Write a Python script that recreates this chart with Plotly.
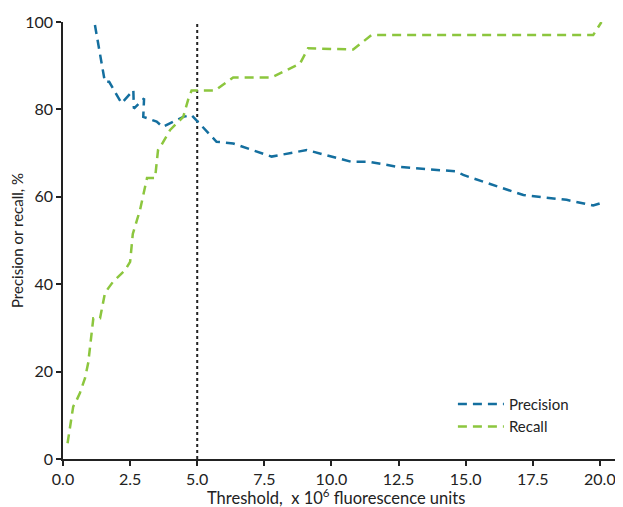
import plotly.graph_objects as go

prec_x = [1.19, 1.40, 1.56, 1.72, 2.18, 2.62, 2.64, 3.02, 2.99, 3.49, 3.71, 4.48, 4.79, 5.72, 6.34, 7.77, 9.08, 10.75, 11.43, 12.42, 14.66, 14.91, 17.15, 18.76, 19.75, 20.0]
prec_y = [99.3, 91.5, 86.3, 86.3, 81.4, 84.4, 80.2, 82.5, 78.3, 77.2, 76.0, 78.3, 78.7, 72.6, 72.2, 69.2, 70.7, 68.0, 68.0, 66.9, 65.8, 65.0, 60.4, 59.3, 58.0, 58.5]

rec_x = [0.17, 0.38, 0.51, 0.63, 0.82, 0.94, 1.13, 1.38, 1.44, 1.56, 1.69, 1.87, 2.31, 2.50, 2.60, 2.87, 3.13, 3.43, 3.54, 3.67, 3.99, 4.48, 4.66, 4.79, 5.66, 6.34, 7.77, 8.83, 9.13, 10.81, 11.49, 19.75, 20.06]
rec_y = [3.6, 12.0, 13.5, 15.1, 18.5, 22.0, 32.2, 32.2, 34.1, 37.9, 39.1, 40.6, 43.2, 45.1, 51.5, 57.0, 64.3, 64.3, 70.7, 71.9, 75.3, 78.3, 82.2, 84.3, 84.3, 87.3, 87.3, 90.5, 94.0, 93.7, 97.0, 97.0, 100.0]

thresh_x = [5.0, 5.0]
thresh_y = [0, 100]

x_ticks = [0, 2.5, 5, 7.5, 10, 12.5, 15, 17.5, 20]
x_labels = ["0.0", "2.5", "5.0", "7.5", "10.0", "12.5", "15.0", "17.5", "20.0"]
y_ticks = [0, 20, 40, 60, 80, 100]
x_title = "Threshold,\u00a0 x 10<sup>6</sup> fluorescence units"
y_title = "Precision or recall, %"

BLUE = "#146f9f"
GREEN = "#8cc63e"
FONT = "Lato"

fig = go.Figure()
fig.add_trace(go.Scatter(x=thresh_x, y=thresh_y, mode="lines",
                         line=dict(color="#222222", width=2, dash="dot"),
                         showlegend=False, hoverinfo="skip"))
fig.add_trace(go.Scatter(x=prec_x, y=prec_y, mode="lines", name="Precision",
                         line=dict(color=BLUE, width=2.5, dash="9px,6px")))
fig.add_trace(go.Scatter(x=rec_x, y=rec_y, mode="lines", name="Recall",
                         line=dict(color=GREEN, width=2.5, dash="9px,6px")))

# page body has an 8px margin, so the figure is shrunk and margins offset accordingly
fig.update_layout(
    width=615, height=499,
    margin=dict(l=55, r=3, t=14, b=48),
    paper_bgcolor="white", plot_bgcolor="white",
    font=dict(family=FONT, size=16, color="#222222"),
    legend=dict(x=0.70, y=0.163, xanchor="left", yanchor="top",
                bgcolor="rgba(0,0,0,0)", font=dict(size=15, family=FONT),
                tracegroupgap=0, itemwidth=46),
    showlegend=True,
)
fig.add_annotation(text=x_title, xref="paper", yref="paper", x=0.49, y=-0.087,
                   xanchor="center", yanchor="middle", showarrow=False,
                   font=dict(size=16.5, family=FONT, color="#222222"))
fig.update_xaxes(range=[0, 20.75], tickvals=x_ticks, ticktext=x_labels,
                 automargin=False,
                 showline=True, linecolor="#222222", linewidth=1.5,
                 ticks="outside", ticklen=5, tickcolor="#222222", tickwidth=1.5,
                 showgrid=False, zeroline=False,
                 tickfont=dict(size=16, family=FONT))
fig.update_yaxes(range=[0, 100], tickvals=y_ticks,
                 automargin=False,
                 showline=True, linecolor="#222222", linewidth=1.5,
                 ticks="outside", ticklen=5, tickcolor="#222222", tickwidth=1.5,
                 showgrid=False, zeroline=False,
                 title=dict(text=y_title, font=dict(size=15, family=FONT)),
                 tickfont=dict(size=16, family=FONT))

fig.write_html("out.html")
